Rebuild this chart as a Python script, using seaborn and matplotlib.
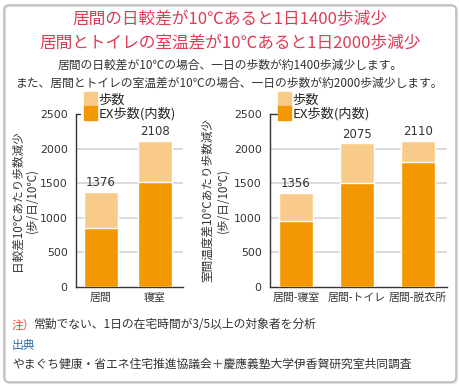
import matplotlib
matplotlib.use("Agg")
import matplotlib.pyplot as plt
import seaborn as sns
import pandas as pd
from matplotlib.patches import Patch, FancyBboxPatch

# data
left_cats = ["居間", "寝室"]
left_total = [1376, 2108]
left_ex = [850, 1515]

right_cats = ["居間-寝室", "居間-トイレ", "居間-脱衣所"]
right_total = [1356, 2075, 2110]
right_ex = [950, 1500, 1807]

yticks = [0, 500, 1000, 1500, 2000, 2500]

LIGHT = "#F8CB8A"
DARK = "#F39800"
RED = "#DE3B55"

sns.set_theme(style="white")
plt.rcParams["font.family"] = ["Noto Sans CJK JP", "DejaVu Sans"]

W, H = 460, 386
fig = plt.figure(figsize=(W / 100, H / 100), dpi=100)


def px(x0, y0, x1, y1):
    # pixel box -> figure fraction [left, bottom, width, height]
    return [x0 / W, 1 - y1 / H, (x1 - x0) / W, (y1 - y0) / H]


# frame with a faint shadow
shadow = FancyBboxPatch((5 / W, 3 / H), 452 / W, 377 / H,
                        boxstyle="round,pad=0,rounding_size=0.012",
                        transform=fig.transFigure, facecolor="none",
                        edgecolor="#dddddd", linewidth=1.5, zorder=-2)
frame = FancyBboxPatch((4 / W, 4 / H), 452 / W, 377 / H,
                       boxstyle="round,pad=0,rounding_size=0.012",
                       transform=fig.transFigure, facecolor="none",
                       edgecolor="#b5b5b5", linewidth=1.0, zorder=-1)
fig.patches.extend([shadow, frame])

fig.text(0.5, 1 - 20 / H, "居間の日較差が10℃あると1日1400歩減少",
         ha="center", va="center", color=RED, fontsize=12)
fig.text(0.5, 1 - 44 / H, "居間とトイレの室温差が10℃あると1日2000歩減少",
         ha="center", va="center", color=RED, fontsize=12)
fig.text(0.5, 1 - 65 / H, "居間の日較差が10℃の場合、一日の歩数が約1400歩減少します。",
         ha="center", va="center", color="#333333", fontsize=8.5)
fig.text(0.5, 1 - 83 / H, "また、居間とトイレの室温差が10℃の場合、一日の歩数が約2000歩減少します。",
         ha="center", va="center", color="#333333", fontsize=8.5)


def draw_panel(rect, cats, total, ex, xlim, width, ylab, label_x, legend_x):
    ax = fig.add_axes(rect)
    ax.patch.set_alpha(0)
    df = pd.DataFrame({"cat": cats, "total": total, "ex": ex})
    sns.barplot(data=df, x="cat", y="total", color=LIGHT, width=width,
                saturation=1, ax=ax, zorder=2)
    sns.barplot(data=df, x="cat", y="ex", color=DARK, width=width,
                saturation=1, ax=ax, zorder=3)
    ax.set_xlim(*xlim)
    ax.set_ylim(0, 2500)
    ax.set_yticks(yticks)
    ax.set_yticklabels([str(t) for t in yticks], fontsize=7.8,
                       color="#333333", family=["Liberation Sans Narrow", "DejaVu Sans"])
    for t in yticks[1:-1]:
        ax.axhline(t, color="#d4d4d4", linewidth=1.2, zorder=1)
    ax.tick_params(axis="y", length=0, pad=6)
    ax.tick_params(axis="x", length=0, pad=4, labelsize=7.8, colors="#333333")
    ax.plot([0, 0.04], [2500, 2500], color="#333333", linewidth=1,
            transform=ax.get_yaxis_transform(), clip_on=False)
    for s in ["top", "right"]:
        ax.spines[s].set_visible(False)
    for s in ["left", "bottom"]:
        ax.spines[s].set_color("#333333")
        ax.spines[s].set_linewidth(1)
    ax.set_xlabel("")
    ax.set_ylabel(ylab, fontsize=8.4, color="#333333", linespacing=1.15)
    ax.yaxis.set_label_coords(label_x, 0.5)
    for i, v in enumerate(total):
        ax.text(i, v + 40, str(v), ha="center", va="bottom", fontsize=8.5,
                color="#333333", family=["DejaVu Sans"])
    handles = [Patch(color=LIGHT, label="歩数"), Patch(color=DARK, label="EX歩数(内数)")]
    fig.legend(handles=handles, loc="upper left",
               bbox_to_anchor=(legend_x / W, 1 - 92 / H), frameon=False,
               fontsize=9.5, handlelength=0.95, handleheight=1.25,
               handletextpad=0.15, labelspacing=0.0, borderpad=0, borderaxespad=0)
    return ax


draw_panel(px(76, 114, 183, 287), left_cats, left_total, left_ex,
           (-0.463, 1.52), 0.63, "日較差10℃あたり歩数減少\n(歩/日/10℃)", -38 / 107, 84)
draw_panel(px(270, 114, 447, 287), right_cats, right_total, right_ex,
           (-0.426, 2.475), 0.557, "室間温度差10℃あたり歩数減少\n(歩/日/10℃)", -41 / 177, 278)

fig.text(12 / W, 1 - 325 / H, "注）", color="#E8502E", fontsize=8.5, va="center")
fig.text(34 / W, 1 - 325 / H, "常勤でない、1日の在宅時間が3/5以上の対象者を分析",
         color="#333333", fontsize=8.5, va="center")
fig.text(12 / W, 1 - 346 / H, "出典", color="#2F6DB0", fontsize=8.5, va="center")
fig.text(12 / W, 1 - 364 / H, "やまぐち健康・省エネ住宅推進協議会＋慶應義塾大学伊香賀研究室共同調査",
         color="#333333", fontsize=8.5, va="center")

fig.savefig("out.png", dpi=100)
